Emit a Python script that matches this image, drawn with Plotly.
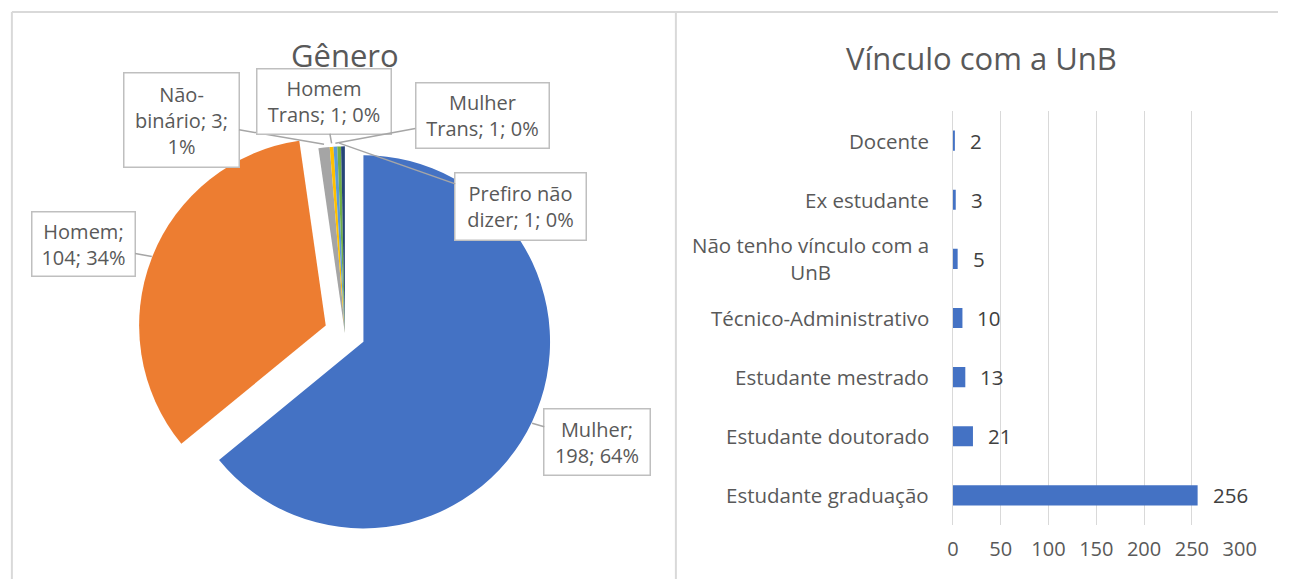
import math
import plotly.graph_objects as go

W, H = 1295, 579
FONT = "Open Sans"

# ---------------- data ----------------
gender_labels = ["Mulher", "Homem", "Não-binário", "Homem Trans", "Mulher Trans", "Prefiro não dizer", "Outro"]
gender_values = [198, 104, 3, 1, 1, 1, 1]
gender_colors = ["#4472C4", "#ED7D31", "#A5A5A5", "#FFC000", "#5B9BD5", "#70AD47", "#264478"]
gender_pull = [0.11, 0.11, 0, 0, 0, 0, 0]
# how each data label wraps ({v}=value, {p}=percent)
gender_label_fmt = [
    "Mulher;<br>{v}; {p}%",
    "Homem;<br>{v}; {p}%",
    "Não-<br>binário; {v};<br>{p}%",
    "Homem<br>Trans; {v}; {p}%",
    "Mulher<br>Trans; {v}; {p}%",
    "Prefiro não<br>dizer; {v}; {p}%",
    None,
]
# label box centre (px) and size (px)
gender_box = [
    (601, 442, 108, 68),
    (80, 244, 105, 66),
    (181, 120, 117, 96),
    (324, 101, 136, 67),
    (482, 116, 135, 67),
    (521, 207, 133, 69),
    None,
]

bond_categories = ["Docente", "Ex estudante", "Não tenho vínculo com a UnB", "Técnico-Administrativo",
                   "Estudante mestrado", "Estudante doutorado", "Estudante graduação"]
bond_tick_text = ["Docente", "Ex estudante", "Não tenho vínculo com a<br>UnB", "Técnico-Administrativo",
                  "Estudante mestrado", "Estudante doutorado", "Estudante graduação"]
bond_values = [2, 3, 5, 10, 13, 21, 256]

# ---------------- pie geometry ----------------
CX, CY, R = 345, 333, 190
max_pull = max(gender_pull)
half = R * (1 + max_pull)
pie_domain_x = [(CX - half) / W, (CX + half) / W]
pie_domain_y = [(H - CY - half) / H, (H - CY + half) / H]

fig = go.Figure()
fig.add_trace(go.Pie(
    labels=gender_labels, values=gender_values, pull=gender_pull,
    marker=dict(colors=gender_colors, line=dict(width=0)),
    sort=False, direction="clockwise", rotation=0,
    textinfo="none", showlegend=False,
    domain=dict(x=pie_domain_x, y=pie_domain_y),
))

annotations = []
total = sum(gender_values)
cum = 0.0
for lab, v, pull, fmt, box in zip(gender_labels, gender_values, gender_pull, gender_label_fmt, gender_box):
    a0 = cum / total * 360
    cum += v
    a1 = cum / total * 360
    mid = math.radians((a0 + a1) / 2)
    if fmt is None:
        continue
    rr = R * (1 + pull)
    px = CX + rr * math.sin(mid)
    py = CY - rr * math.cos(mid)
    bx, by, bw, bh = box
    p = round(v / total * 100)
    annotations.append(dict(
        x=px / W, y=1 - py / H, xref="paper", yref="paper",
        ax=bx - px, ay=by - py, axref="pixel", ayref="pixel",
        text=fmt.format(v=v, p=p), showarrow=True, arrowhead=0, arrowwidth=1.5,
        arrowcolor="#A6A6A6", standoff=0,
        bgcolor="white", bordercolor="#BFBFBF", borderwidth=1.5, borderpad=0,
        width=bw - 3, height=bh - 3, align="center", valign="middle",
        font=dict(family=FONT, size=20, color="#595959"),
    ))

# ---------------- bar chart ----------------
fig.add_trace(go.Bar(
    x=bond_values, y=bond_categories, orientation="h",
    marker=dict(color="#4472C4", line=dict(width=0)),
    showlegend=False, xaxis="x", yaxis="y",
))

for cat, tt, v in zip(bond_categories, bond_tick_text, bond_values):
    annotations.append(dict(
        x=942 / W, y=cat, xref="paper", yref="y", xanchor="right", yanchor="middle",
        text=tt, showarrow=False, align="center",
        font=dict(family=FONT, size=20.5, color="#595959"),
    ))
    annotations.append(dict(
        x=v, y=cat, xref="x", yref="y", xanchor="left", yanchor="middle",
        xshift=13, text=str(v), showarrow=False,
        font=dict(family=FONT, size=20.5, color="#404040"),
    ))

# titles
annotations.append(dict(x=345 / W, y=1 - 55 / H, xref="paper", yref="paper",
                        text="Gênero", showarrow=False, xanchor="center", yanchor="middle",
                        font=dict(family=FONT, size=31, color="#595959")))
annotations.append(dict(x=993 / W, y=1 - 58 / H, xref="paper", yref="paper",
                        text="Vínculo com a UnB", showarrow=False, xanchor="center", yanchor="middle",
                        font=dict(family=FONT, size=31, color="#595959")))

frame = dict(color="#D9D9D9", width=2)
shapes = [
    dict(type="line", xref="paper", yref="paper", x0=6 / W, x1=1, y0=1 - 12 / H, y1=1 - 12 / H, line=frame),
    dict(type="line", xref="paper", yref="paper", x0=6 / W, x1=6 / W, y0=0, y1=1 - 12 / H, line=frame),
    dict(type="line", xref="paper", yref="paper", x0=682 / W, x1=682 / W, y0=0, y1=1 - 12 / H, line=frame),
]

fig.update_layout(
    width=W, height=H, autosize=False,
    margin=dict(l=0, r=0, t=0, b=0),
    paper_bgcolor="white", plot_bgcolor="white",
    font=dict(family=FONT, color="#595959"),
    bargap=0.66,
    xaxis=dict(domain=[964 / W, 1256 / W], range=[0, 300], dtick=50, tick0=0,
               showgrid=True, gridcolor="#D9D9D9", gridwidth=1.3,
               zeroline=True, zerolinecolor="#D9D9D9", zerolinewidth=1.3,
               showline=False, ticks="", ticklabelstandoff=10,
               tickfont=dict(family=FONT, size=20, color="#595959"),
               anchor="y", fixedrange=True),
    yaxis=dict(domain=[54 / H, 468 / H], autorange="reversed", showticklabels=False,
               showgrid=False, zeroline=False, showline=False, ticks="",
               anchor="x", fixedrange=True),
    annotations=annotations,
    shapes=shapes,
)

post = (
    "document.documentElement.style.margin='0';"
    "document.body.style.margin='0';"
    "document.body.style.overflow='hidden';"
)

fig.write_html("out.html", config={"displayModeBar": False, "responsive": False}, post_script=post)
